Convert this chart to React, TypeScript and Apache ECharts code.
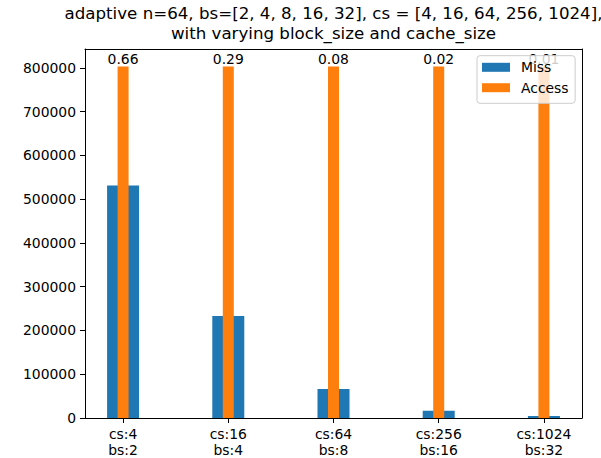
import React, { useEffect, useRef } from "react";
import * as echarts from "echarts";

const titleLine1 = "adaptive n=64, bs=[2, 4, 8, 16, 32], cs = [4, 16, 64, 256, 1024],";
const titleLine2 = "with varying block_size and cache_size";
const cacheSizes = ["4", "16", "64", "256", "1024"];
const blockSizes = ["2", "4", "8", "16", "32"];
const missValues = [531000, 233000, 66000, 16500, 4500];
const accessValues = [803000, 803000, 803000, 803000, 803000];
const ratioLabels = ["0.66", "0.29", "0.08", "0.02", "0.01"];
const yTicks = [0, 100000, 200000, 300000, 400000, 500000, 600000, 700000, 800000];
const yMax = 843000;
const xPositions = [0, 1, 2, 3, 4];

const FONT = "DejaVu Sans";
const FS = 13.9;

export default function App() {
  const ref = useRef<HTMLDivElement>(null);
  useEffect(() => {
    if (!ref.current) return;
    const chart = echarts.init(ref.current, undefined, { renderer: "svg" });
    const xCommon = {
      type: "value",
      min: -0.362,
      max: 4.362,
      splitLine: { show: false },
    };
    chart.setOption({
      animation: false,
      backgroundColor: "#fff",
      textStyle: { fontFamily: FONT },
      grid: { left: 85, right: 19, top: 49, bottom: 39, containLabel: false },
      graphic: [
        {
          type: "text",
          x: 333.5,
          y: 13.5,
          style: {
            text: titleLine1,
            fontSize: 16.67,
            fontFamily: FONT,
            fill: "#000",
            align: "center",
            verticalAlign: "middle",
          },
        },
        {
          type: "text",
          x: 333.5,
          y: 33.5,
          style: {
            text: titleLine2,
            fontSize: 16.67,
            fontFamily: FONT,
            fill: "#000",
            align: "center",
            verticalAlign: "middle",
          },
        },
      ],
      legend: {
        data: ["Miss", "Access"],
        orient: "vertical",
        left: 477,
        top: 55.7,
        itemWidth: 28,
        itemHeight: 9,
        itemGap: 6.4,
        icon: "rect",
        padding: [4.6, 6.6, 8.6, 5],
        backgroundColor: "rgba(255,255,255,0.8)",
        borderColor: "#cccccc",
        borderWidth: 1,
        borderRadius: 3,
        textStyle: {
          fontFamily: FONT,
          fontSize: FS,
          color: "#000",
          lineHeight: 14,
          padding: [0, 0, 0, 6],
        },
      },
      xAxis: [
        {
          ...xCommon,
          position: "bottom",
          axisLine: { show: true, onZero: false, lineStyle: { color: "#000", width: 1 } },
          axisTick: {
            show: true,
            length: 5,
            customValues: xPositions,
            lineStyle: { color: "#000" },
          },
          axisLabel: {
            show: true,
            customValues: xPositions,
            margin: 8,
            fontFamily: FONT,
            fontSize: FS,
            lineHeight: 16,
            color: "#000",
            formatter: (v: number) => {
              const i = Math.round(v);
              return "cs:" + cacheSizes[i] + "\nbs:" + blockSizes[i];
            },
          },
        },
        {
          ...xCommon,
          position: "top",
          axisLine: { show: true, onZero: false, lineStyle: { color: "#000", width: 1 } },
          axisTick: { show: false },
          axisLabel: { show: false },
        },
      ],
      yAxis: [
        {
          type: "value",
          min: 0,
          max: yMax,
          position: "left",
          splitLine: { show: false },
          axisLine: { show: true, onZero: false, lineStyle: { color: "#000", width: 1 } },
          axisTick: {
            show: true,
            length: 5,
            customValues: yTicks,
            lineStyle: { color: "#000" },
          },
          axisLabel: {
            show: true,
            customValues: yTicks,
            margin: 9,
            fontFamily: FONT,
            fontSize: FS,
            color: "#000",
            formatter: (v: number) => String(v),
          },
        },
        {
          type: "value",
          min: 0,
          max: yMax,
          position: "right",
          splitLine: { show: false },
          axisLine: { show: true, onZero: false, lineStyle: { color: "#000", width: 1 } },
          axisTick: { show: false },
          axisLabel: { show: false },
        },
      ],
      series: [
        {
          name: "Miss",
          type: "bar",
          xAxisIndex: 0,
          yAxisIndex: 0,
          barWidth: 32,
          itemStyle: { color: "#1f77b4" },
          data: xPositions.map((x, i) => [x, missValues[i]]),
        },
        {
          name: "Access",
          type: "bar",
          xAxisIndex: 1,
          yAxisIndex: 0,
          barWidth: 11,
          itemStyle: { color: "#ff7f0e" },
          label: {
            show: true,
            position: "top",
            distance: 1,
            fontFamily: FONT,
            fontSize: FS,
            color: "#000",
            formatter: (p: any) => ratioLabels[p.dataIndex],
          },
          data: xPositions.map((x, i) => [x, accessValues[i]]),
        },
      ],
    });
    return () => chart.dispose();
  }, []);
  return (
    <div
      ref={ref}
      style={{ position: "absolute", left: 0, top: 0, width: 601, height: 458 }}
    />
  );
}
